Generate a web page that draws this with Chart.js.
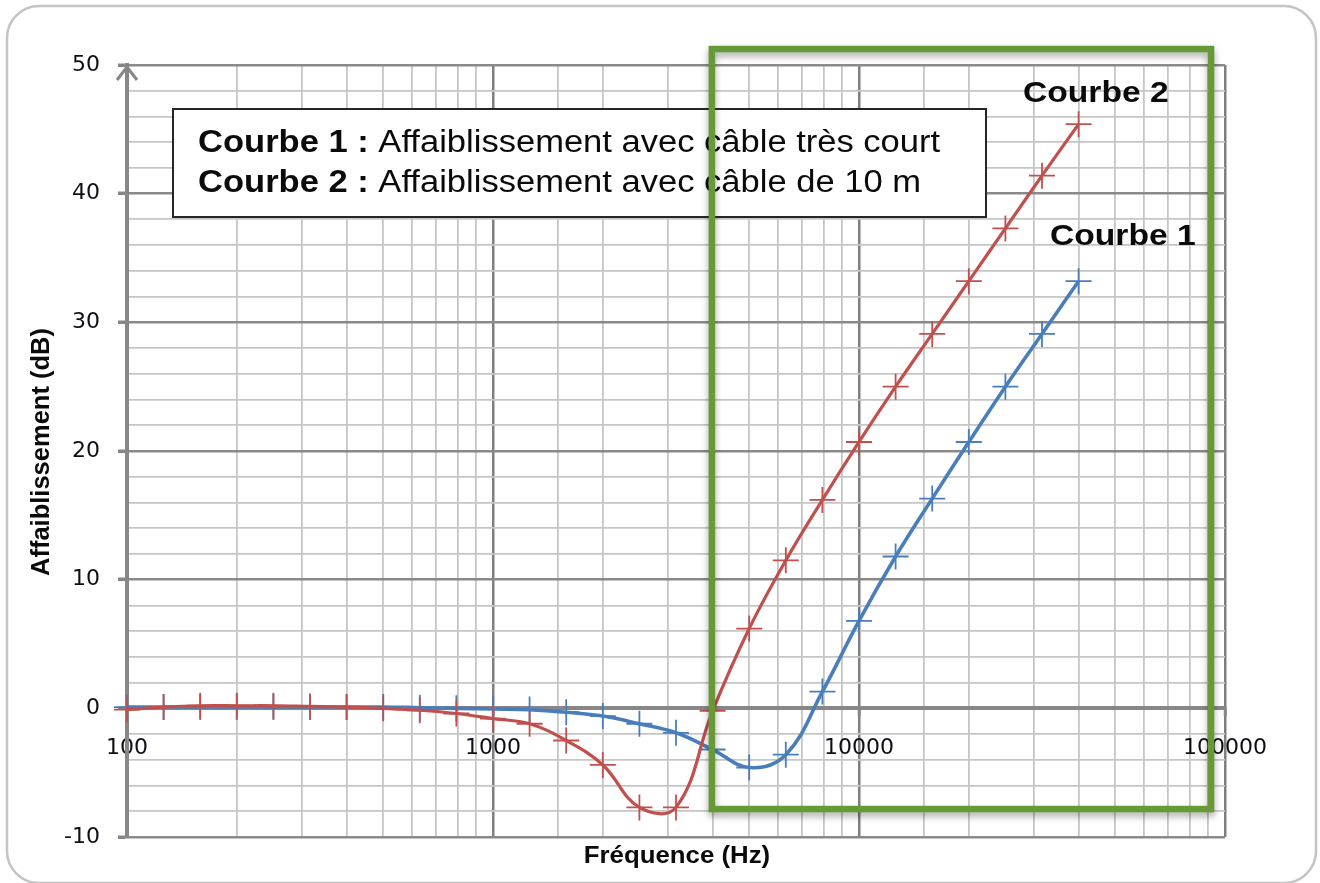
<!DOCTYPE html>
<html>
<head>
<meta charset="utf-8">
<title>Affaiblissement</title>
<script src="https://cdn.jsdelivr.net/npm/chart.js@4.4.0/dist/chart.umd.min.js"></script>
<style>
  html, body { margin: 0; padding: 0; background: #ffffff; }
  #wrap { width: 1320px; height: 883px; position: relative; }
</style>
</head>
<body>
<div id="wrap"><canvas id="c" width="1320" height="883"></canvas></div>
<script>
// Measurement frequencies (Hz), ten points per decade
const frequencies = [100, 125.9, 158.5, 199.5, 251.2, 316.2, 398.1, 501.2, 631.0, 794.3,
                     1000, 1258.9, 1584.9, 1995.3, 2511.9, 3162.3, 3981.1, 5011.9, 6309.6, 7943.3,
                     10000, 12589, 15849, 19953, 25119, 31623, 39811];

// Courbe 1 : very short cable (dB)
const courbe1 = [0.1, 0.1, 0.1, 0.1, 0.1, 0.1, 0.1, 0.1, 0.05, 0.0,
                 -0.05, -0.1, -0.3, -0.6, -1.2, -1.9, -3.2, -4.6, -3.6, 1.3,
                 6.8, 11.8, 16.3, 20.7, 25.0, 29.1, 33.2];

// Courbe 2 : 10 m cable (dB)
const courbe2 = [-0.1, 0.1, 0.2, 0.2, 0.2, 0.15, 0.1, 0.0, -0.15, -0.4,
                 -0.8, -1.2, -2.5, -4.4, -7.7, -7.7, -0.2, 6.2, 11.5, 16.2,
                 20.7, 25.0, 29.1, 33.2, 37.3, 41.4, 45.4];

// Labelled ticks
const xTickLabels = [100, 1000, 10000, 100000];
const yTickLabels = [-10, 0, 10, 20, 30, 40, 50];

// Texts
const legendLines = [
  ['Courbe 1 : ', 'Affaiblissement avec câble très court'],
  ['Courbe 2 : ', 'Affaiblissement avec câble de 10 m']
];
const curveNames = ['Courbe 1', 'Courbe 2'];
const xTitle = 'Fréquence (Hz)';
const yTitle = 'Affaiblissement (dB)';

// Highlighted frequency zone (Hz / dB)
const zoneX = [3963, 91600];
const zoneY = [-7.83, 51.24];

const BLUE = '#4a7ebb';
const RED = '#c0504d';
const GREEN = '#679a36';
const SANS = '"Liberation Sans", Arial, sans-serif';

const isLabelX = v => xTickLabels.some(l => Math.abs(v - l) < 1e-6 * l);
const isLabelY = v => yTickLabels.includes(v);

function roundRect(ctx, x, y, w, h, r) {
  ctx.beginPath();
  ctx.moveTo(x + r, y);
  ctx.lineTo(x + w - r, y);
  ctx.arcTo(x + w, y, x + w, y + r, r);
  ctx.lineTo(x + w, y + h - r);
  ctx.arcTo(x + w, y + h, x + w - r, y + h, r);
  ctx.lineTo(x + r, y + h);
  ctx.arcTo(x, y + h, x, y + h - r, r);
  ctx.lineTo(x, y + r);
  ctx.arcTo(x, y, x + r, y, r);
  ctx.closePath();
}

// Draws text slightly widened horizontally; returns drawn width
function wideText(ctx, str, x, y, font, sx) {
  ctx.save();
  ctx.font = font;
  ctx.translate(x, y);
  ctx.scale(sx, 1);
  ctx.fillText(str, 0, 0);
  const w = ctx.measureText(str).width * sx;
  ctx.restore();
  return w;
}

const decor = {
  id: 'decor',
  beforeDraw(chart) {
    const ctx = chart.ctx;
    ctx.save();
    ctx.fillStyle = '#ffffff';
    ctx.fillRect(0, 0, chart.width, chart.height);
    ctx.strokeStyle = '#c4c4c4';
    ctx.lineWidth = 2.5;
    roundRect(ctx, 7, 6, 1309, 877, 32);
    ctx.stroke();
    ctx.restore();
  },
  beforeDatasetsDraw(chart) {
    const ctx = chart.ctx;
    const area = chart.chartArea;
    ctx.save();
    // arrow head on the vertical axis
    ctx.strokeStyle = '#878787';
    ctx.lineWidth = 3;
    ctx.beginPath();
    ctx.moveTo(area.left - 10, area.top + 15);
    ctx.lineTo(area.left, area.top + 2);
    ctx.lineTo(area.left + 10, area.top + 15);
    ctx.stroke();

    // legend box
    ctx.fillStyle = '#ffffff';
    ctx.fillRect(173, 109, 813, 108);
    ctx.strokeStyle = '#262626';
    ctx.lineWidth = 2;
    ctx.strokeRect(173, 109, 813, 108);
    ctx.fillStyle = '#0a0a0a';
    ctx.textBaseline = 'alphabetic';
    legendLines.forEach((ln, i) => {
      const y = 152 + i * 40;
      const w = wideText(ctx, ln[0], 198, y, 'bold 31px ' + SANS, 1.114);
      wideText(ctx, ln[1], 198 + w, y, '31px ' + SANS, 1.114);
    });

    // axis titles
    ctx.fillStyle = '#0a0a0a';
    ctx.textAlign = 'center';
    ctx.textBaseline = 'alphabetic';
    ctx.save();
    ctx.font = 'bold 24px ' + SANS;
    ctx.translate(677, 863);
    ctx.scale(1.075, 1);
    ctx.fillText(xTitle, 0, 0);
    ctx.restore();

    ctx.save();
    ctx.font = 'bold 25.5px ' + SANS;
    ctx.translate(42, 452);
    ctx.rotate(-Math.PI / 2);
    ctx.textBaseline = 'middle';
    ctx.fillText(yTitle, 0, 0);
    ctx.restore();
    ctx.restore();
  },
  afterDatasetsDraw(chart) {
    const ctx = chart.ctx;
    const xs = chart.scales.x, ys = chart.scales.y;
    ctx.save();
    ctx.fillStyle = '#0a0a0a';
    ctx.textBaseline = 'alphabetic';
    ctx.textAlign = 'left';
    wideText(ctx, curveNames[1], 1023, 102, 'bold 30px ' + SANS, 1.12);
    wideText(ctx, curveNames[0], 1050, 245, 'bold 30px ' + SANS, 1.12);

    // highlighted zone
    const x1 = xs.getPixelForValue(zoneX[0]);
    const x2 = xs.getPixelForValue(zoneX[1]);
    const y1 = ys.getPixelForValue(zoneY[1]);
    const y2 = ys.getPixelForValue(zoneY[0]);
    ctx.shadowColor = 'rgba(0,0,0,0.35)';
    ctx.shadowBlur = 7;
    ctx.shadowOffsetY = 4;
    ctx.strokeStyle = GREEN;
    ctx.lineWidth = 6.5;
    ctx.strokeRect(x1, y1, x2 - x1, y2 - y1);
    ctx.restore();
  }
};

const pts = vals => frequencies.map((f, i) => ({ x: f, y: vals[i] }));

const tickFont = { family: '"DejaVu Sans", Verdana, sans-serif', size: 22 };

new Chart(document.getElementById('c'), {
  type: 'line',
  data: {
    datasets: [
      {
        label: curveNames[1],
        data: pts(courbe2),
        order: 0,
        borderColor: RED,
        borderWidth: 3.2,
        tension: 0.4,
        pointStyle: 'cross',
        pointRadius: 13,
        pointBorderWidth: 1.8,
        pointBorderColor: RED,
        pointHoverRadius: 13,
        fill: false,
        clip: false
      },
      {
        label: curveNames[0],
        data: pts(courbe1),
        order: 1,
        borderColor: BLUE,
        borderWidth: 3.6,
        tension: 0.4,
        pointStyle: 'cross',
        pointRadius: 13,
        pointBorderWidth: 1.8,
        pointBorderColor: BLUE,
        pointHoverRadius: 13,
        fill: false,
        clip: false
      }
    ]
  },
  options: {
    responsive: false,
    animation: false,
    devicePixelRatio: 1,
    events: [],
    layout: { autoPadding: false, padding: { left: 0, top: 65, right: 95, bottom: 46 } },
    plugins: { legend: { display: false }, tooltip: { enabled: false } },
    scales: {
      x: {
        type: 'logarithmic',
        min: 100,
        max: 100000,
        position: { y: 0 },
        border: { color: '#878787', width: 4 },
        grid: {
          color: c => isLabelX(c.tick.value) ? '#7f7f7f' : '#c6c6c6',
          lineWidth: c => isLabelX(c.tick.value) ? 2.5 : 1.8,
          tickColor: c => isLabelX(c.tick.value) ? '#878787' : 'rgba(0,0,0,0)',
          tickLength: 6,
          tickWidth: 3
        },
        ticks: {
          autoSkip: false,
          maxRotation: 0,
          minRotation: 0,
          padding: 21,
          color: '#0e0e18',
          font: tickFont,
          callback: v => isLabelX(v) ? String(v) : ''
        }
      },
      y: {
        type: 'linear',
        min: -10,
        max: 50,
        afterFit(s) { s.width = 127; },
        border: { color: '#878787', width: 4 },
        grid: {
          color: c => isLabelY(c.tick.value) ? '#8a8a8a' : '#c6c6c6',
          lineWidth: c => isLabelY(c.tick.value) ? 2.5 : 1.8,
          tickColor: c => isLabelY(c.tick.value) ? '#878787' : 'rgba(0,0,0,0)',
          tickLength: 9,
          tickWidth: 3.5
        },
        ticks: {
          stepSize: 2,
          autoSkip: false,
          padding: 18,
          color: '#0e0e18',
          font: tickFont,
          callback: v => isLabelY(v) ? String(v) : ''
        }
      }
    }
  },
  plugins: [decor]
});
</script>
</body>
</html>
